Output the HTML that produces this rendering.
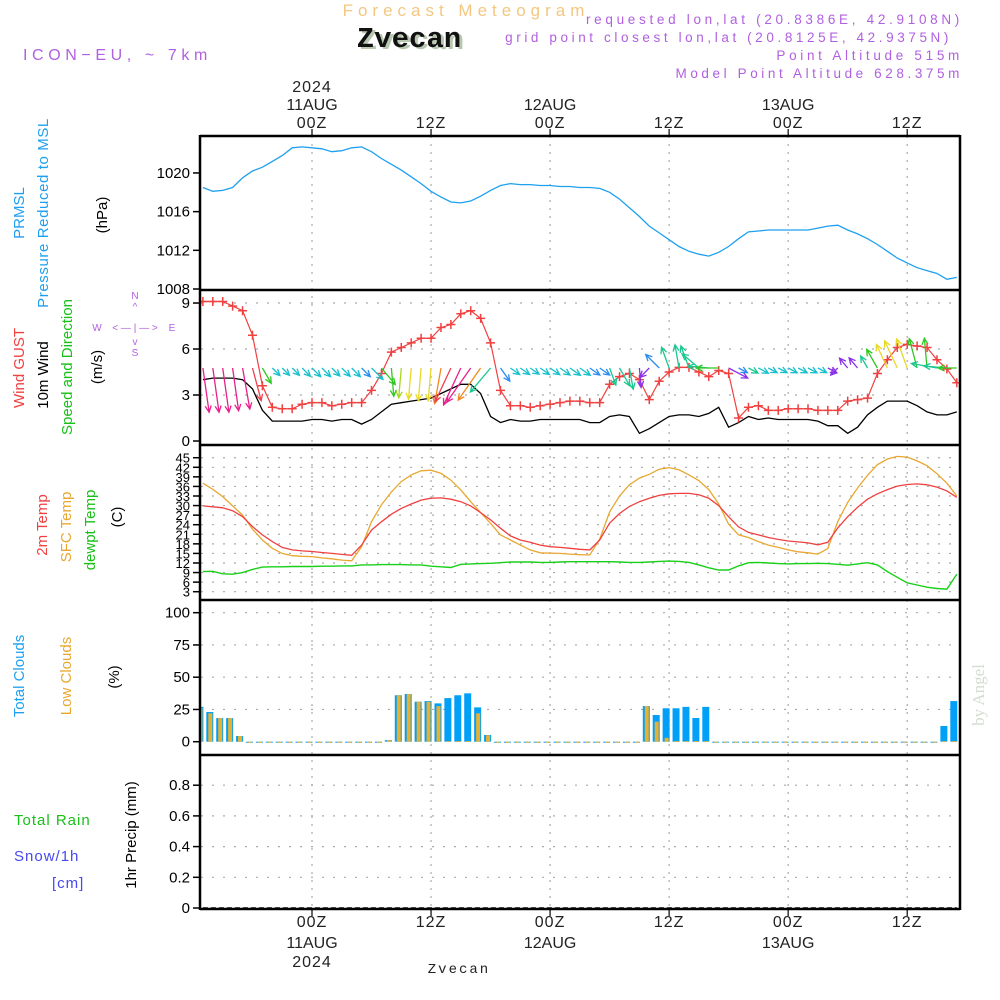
<!DOCTYPE html>
<html><head><meta charset="utf-8"><title>Forecast Meteogram Zvecan</title>
<style>
html,body{margin:0;padding:0;background:#fff;}
svg{display:block;font-family:"Liberation Sans",sans-serif;}
</style></head>
<body>
<svg id="chart" width="1000" height="1000" viewBox="0 0 1000 1000" xmlns="http://www.w3.org/2000/svg">
<defs><clipPath id="plotclip"><rect x="201" y="136" width="758" height="773"/></clipPath></defs>
<rect x="0" y="0" width="1000" height="1000" fill="#fff"/>
<text x="466" y="16" text-anchor="middle" font-size="17" fill="#f3c780" letter-spacing="5">Forecast Meteogram</text>
<text x="412" y="49" text-anchor="middle" font-size="29" font-weight="bold" font-family="Liberation Mono, monospace" fill="#b8c8b0">Zvecan</text>
<text x="409" y="47" text-anchor="middle" font-size="29" font-weight="bold" font-family="Liberation Mono, monospace" fill="#111">Zvecan</text>
<text x="23" y="60" font-size="16" fill="#b060e0" letter-spacing="4.6">ICON−EU, ~ 7km</text>
<text x="963" y="24" text-anchor="end" font-size="13.5" fill="#b060e0" letter-spacing="3.7">requested lon,lat (20.8386E, 42.9108N)</text>
<text x="952" y="42" text-anchor="end" font-size="13.5" fill="#b060e0" letter-spacing="3.6">grid point closest lon,lat (20.8125E, 42.9375N)</text>
<text x="963" y="60" text-anchor="end" font-size="13.5" fill="#b060e0" letter-spacing="3.7">Point Altitude 515m</text>
<text x="963" y="78" text-anchor="end" font-size="13.5" fill="#b060e0" letter-spacing="3.6">Model Point Altitude 628.375m</text>
<text transform="translate(984,695) rotate(-90)" text-anchor="middle" font-size="17" font-family="Liberation Serif, serif" fill="#d3ddd0">by Angel</text>

<!-- left panel titles -->
<text transform="translate(24,213) rotate(-90)" text-anchor="middle" font-size="15" fill="#1ea0f0">PRMSL</text>
<text transform="translate(48,213) rotate(-90)" text-anchor="middle" font-size="15" fill="#1ea0f0" letter-spacing="0.6">Pressure Reduced to MSL</text>
<text transform="translate(107,215) rotate(-90)" text-anchor="middle" font-size="15" fill="#000">(hPa)</text>
<text transform="translate(24,368) rotate(-90)" text-anchor="middle" font-size="15" fill="#f04040">Wind GUST</text>
<text transform="translate(48,375) rotate(-90)" text-anchor="middle" font-size="15" fill="#000">10m Wind</text>
<text transform="translate(72,367) rotate(-90)" text-anchor="middle" font-size="15" fill="#18c018">Speed and Direction</text>
<text transform="translate(102,367) rotate(-90)" text-anchor="middle" font-size="15" fill="#000">(m/s)</text>
<g fill="#b060e0" font-size="10" text-anchor="middle">
<text x="135" y="299">N</text><text x="135" y="356">S</text><text x="97" y="331">W</text><text x="172" y="331">E</text>
<text x="135" y="310">^</text><text x="135" y="345">v</text><text x="135" y="331">&lt; — | — &gt;</text>
</g>
<text transform="translate(47,525) rotate(-90)" text-anchor="middle" font-size="15" fill="#f04040">2m Temp</text>
<text transform="translate(71,527) rotate(-90)" text-anchor="middle" font-size="15" fill="#e8a830">SFC Temp</text>
<text transform="translate(95,530) rotate(-90)" text-anchor="middle" font-size="15" fill="#18c018">dewpt Temp</text>
<text transform="translate(122,517) rotate(-90)" text-anchor="middle" font-size="15" fill="#000">(C)</text>
<text transform="translate(24,676) rotate(-90)" text-anchor="middle" font-size="15" fill="#1ea0f0">Total Clouds</text>
<text transform="translate(71,676) rotate(-90)" text-anchor="middle" font-size="15" fill="#e8a830">Low Clouds</text>
<text transform="translate(119,677) rotate(-90)" text-anchor="middle" font-size="15" fill="#000">(%)</text>
<text x="14" y="825" font-size="15" fill="#18c018" letter-spacing="1">Total  Rain</text>
<text x="14" y="861" font-size="15" fill="#4848f0" letter-spacing="1">Snow/1h</text>
<text x="52" y="888" font-size="15" fill="#4848f0" letter-spacing="1">[cm]</text>
<text transform="translate(136,835) rotate(-90)" text-anchor="middle" font-size="15" fill="#000">1hr Precip (mm)</text>
<text x="459" y="973" text-anchor="middle" font-size="14" font-family="Liberation Mono, monospace" fill="#222" letter-spacing="2">Zvecan</text>
<g id="plot"></g>
</svg>
<script>
// ---- data (hourly, from -11h to +65h relative to 00Z 11AUG 2024) ----
const hourStart = -11;
const pressure = [1018.5,1018.1,1018.2,1018.5,1019.5,1020.2,1020.6,1021.2,1021.8,1022.6,1022.7,1022.6,1022.5,1022.2,1022.3,1022.6,1022.7,1022.2,1021.5,1020.9,1020.3,1019.6,1018.9,1018.1,1017.5,1017.0,1016.9,1017.1,1017.6,1018.2,1018.7,1018.9,1018.8,1018.8,1018.7,1018.7,1018.6,1018.6,1018.5,1018.5,1018.4,1018.0,1017.3,1016.4,1015.5,1014.5,1013.8,1013.1,1012.4,1011.9,1011.6,1011.4,1011.8,1012.4,1013.2,1013.9,1014.0,1014.1,1014.1,1014.1,1014.1,1014.1,1014.3,1014.5,1014.6,1014.1,1013.7,1013.2,1012.6,1011.9,1011.2,1010.7,1010.2,1009.9,1009.6,1009.0,1009.2];
const gust = [9.1,9.1,9.1,8.8,8.5,6.9,3.6,2.2,2.1,2.1,2.4,2.5,2.5,2.3,2.4,2.5,2.5,3.3,4.4,5.8,6.1,6.4,6.7,6.7,7.4,7.6,8.3,8.5,8.0,6.4,3.3,2.3,2.3,2.2,2.3,2.4,2.5,2.6,2.6,2.5,2.5,3.7,4.2,4.4,4.0,2.7,3.9,4.5,4.8,4.8,4.5,4.2,4.6,4.4,1.5,2.2,2.3,2.0,2.0,2.1,2.1,2.1,2.0,2.0,2.0,2.6,2.7,2.8,4.4,5.3,6.1,6.3,6.2,6.1,5.3,4.7,3.8];
const wind10m = [4.0,4.1,4.1,4.1,4.0,3.4,2.0,1.3,1.3,1.3,1.3,1.4,1.4,1.3,1.4,1.4,1.1,1.4,1.9,2.4,2.5,2.6,2.7,2.8,3.1,3.4,3.7,3.7,3.1,1.6,1.2,1.4,1.3,1.3,1.4,1.4,1.4,1.4,1.4,1.2,1.2,1.6,1.7,1.6,0.5,0.8,1.2,1.6,1.7,1.7,1.6,1.8,2.2,0.9,1.2,1.6,1.4,1.5,1.4,1.4,1.4,1.4,1.3,1.0,1.0,0.5,0.9,1.7,2.2,2.6,2.6,2.6,2.3,1.9,1.7,1.7,1.9];
const windDir = [172,172,172,172,170,165,150,135,135,135,135,135,135,135,135,135,135,135,140,175,185,185,185,185,190,205,205,215,215,220,145,125,125,125,125,125,125,125,125,125,125,160,150,170,175,225,315,340,350,340,310,275,270,118,118,118,118,118,118,118,118,118,118,118,225,320,320,330,330,335,335,340,345,355,280,275,270];
const temp2m = [29.9,29.6,29.3,28.4,26.5,23.4,20.8,18.7,16.9,16.1,15.8,15.6,15.3,15.0,14.7,14.4,17.6,22.3,24.9,27.3,29.1,30.5,31.7,32.3,32.4,32.0,31.2,29.9,27.8,25.5,22.9,20.5,19.2,18.5,17.6,17.1,16.9,16.6,16.3,16.1,19.2,24.5,27.5,29.7,31.2,32.3,33.2,33.7,33.8,33.8,33.4,32.3,30.0,26.5,23.3,21.6,20.8,20.0,19.4,18.9,18.6,18.3,17.7,18.5,23.0,26.5,29.5,32.0,33.7,35.0,36.1,36.6,36.8,36.5,35.8,34.6,32.6];
const tempSfc = [37.0,35.1,32.8,29.9,27.0,22.6,19.2,16.6,15.0,14.3,14.1,14.0,13.6,13.3,12.9,12.7,17.1,24.9,30.2,34.3,37.5,39.6,40.9,41.1,40.1,38.0,34.9,31.2,27.8,24.4,20.8,19.2,17.6,16.1,15.2,15.1,15.0,14.8,14.6,14.5,19.5,28.0,33.0,36.5,38.6,39.8,41.4,41.9,41.2,39.6,37.8,35.0,30.5,24.2,20.8,20.0,18.7,17.6,16.9,16.1,15.5,15.2,14.8,16.5,25.0,31.0,35.5,39.5,42.8,44.6,45.4,45.2,44.0,42.5,40.0,37.0,33.0];
const dewpoint = [9.3,9.4,8.6,8.5,9.0,10.0,10.7,10.8,10.8,10.9,10.9,10.9,11.0,11.0,11.1,11.1,11.4,11.4,11.5,11.5,11.5,11.4,11.4,11.0,10.8,10.6,11.6,11.7,11.8,11.9,12.1,12.3,12.3,12.3,12.2,12.2,12.3,12.4,12.4,12.4,12.4,12.4,12.3,12.2,12.2,12.3,12.5,12.6,12.5,12.2,11.4,10.5,9.8,9.8,11.1,12.1,12.2,12.0,11.8,11.7,11.8,11.8,11.9,11.8,11.6,11.3,11.7,12.1,11.4,9.3,7.5,5.8,5.1,4.4,4.0,3.8,8.5];
const totalClouds = [27,23,18.3,18.3,4.4,0,0,0,0,0,0,0,0,0,0,0,0,0,0,1.2,36,37,31,31.5,29.7,33.8,36,37.5,26.6,5.2,0,0,0,0,0,0,0,0,0,0,0,0,0,0,0,27.6,20.7,25.9,25.9,27,18.4,27,0,0,0,0,0,0,0,0,0,0,0,0,0,0,0,0,0,0,0,0,0,0,0,12.2,31.5];
const lowClouds = [26,22,18.3,18.3,4.4,0,0,0,0,0,0,0,0,0,0,0,0,0,0,1.2,36,37,31,31,27.6,0.5,0.5,0.5,22,5,0,0,0,0,0,0,0,0,0,0,0,0,0,0,0,27.6,15.5,3,0.5,0.5,0.5,0.5,0,0,0,0,0,0,0,0,0,0,0,0,0,0,0,0,0,0,0,0,0,0,0,0.5,0.5];
const precip = totalClouds.map(function(){return 0;});
const pressureTicks = [1008,1012,1016,1020];
const windTicks = [0,3,6,9];
const tempTicks = [3,6,9,12,15,18,21,24,27,30,33,36,39,42,45];
const cloudTicks = [0,25,50,75,100];
const precipTicks = [0,0.2,0.4,0.6,0.8];
const timeTickHours = [0,12,24,36,48,60];
const timeTickLabels = ["00Z","12Z","00Z","12Z","00Z","12Z"];
const dateLabels = ["11AUG","","12AUG","","13AUG",""];
const yearLabels = ["2024","","","","",""];

// ---- axes ----
const X0 = 201, X1 = 959;
function xH(h){ return 312 + h*9.92; }
function yP(p){ return 289 - (p-1008)*9.67; }
function yW(v){ return 441 - v*15.33; }
function yT(t){ return 591.7 - (t-3)*3.19; }
function yC(c){ return 741.7 - c*1.29; }
function yR(r){ return 908 - r*153.5; }

const NS = "http://www.w3.org/2000/svg";
const plot = document.getElementById('plot');
function mk(tag, attrs, parent){
  const e = document.createElementNS(NS, tag);
  for (const k in attrs) e.setAttribute(k, attrs[k]);
  (parent||plot).appendChild(e);
  return e;
}
const clipG = mk('g', {'clip-path':'url(#plotclip)'});



function hGrid(vals, fy, name){
  vals.forEach(function(v){
    const l = mk('line', {x1:X0, x2:X1, y1:fy(v), y2:fy(v), stroke:'#aaa', 'stroke-width':1.2, 'stroke-dasharray':'2,9'}, clipG);
    
    
  });
}
hGrid(windTicks.slice(1), yW, 'wind-gridline');
hGrid(tempTicks, yT, 'temp-gridline');
hGrid(cloudTicks.slice(1), yC, 'cloud-gridline');
hGrid(precipTicks.slice(1), yR, 'precip-gridline');
timeTickHours.forEach(function(h){
  const l = mk('line', {x1:xH(h), x2:xH(h), y1:136, y2:909, stroke:'#aaa', 'stroke-width':1.2, 'stroke-dasharray':'2,6'}, clipG);
  
  
});

function hourOf(i){ return hourStart + i; }
function pathFrom(arr, fy){
  return arr.map(function(v,i){ return (i?'L':'M') + xH(hourOf(i)).toFixed(1) + ',' + fy(v).toFixed(1); }).join(' ');
}

const pLine = mk('path', {d:pathFrom(pressure, yP), fill:'none', stroke:'#1ea0f0', 'stroke-width':1.3}, clipG);



const wLine = mk('path', {d:pathFrom(wind10m, yW), fill:'none', stroke:'#000', 'stroke-width':1.3}, clipG);



const gLine = mk('path', {d:pathFrom(gust, yW), fill:'none', stroke:'#f04040', 'stroke-width':1.2}, clipG);


gust.forEach(function(v,i){
  const x = xH(hourOf(i)), y = yW(v);
  const m = mk('path', {d:'M'+(x-4.5)+','+y+' h9 M'+x+','+(y-4.5)+' v9', stroke:'#f04040', 'stroke-width':1.5}, clipG);
  
  
});

function arrowColor(s){
  if (s < 1.05) return '#8a30e8';
  if (s < 1.25) return '#2a8cf0';
  if (s < 1.55) return '#18c0cc';
  if (s < 1.9) return '#18c890';
  if (s < 2.45) return '#30c820';
  if (s < 2.6) return '#a8d820';
  if (s < 2.95) return '#e8d828';
  if (s < 3.3) return '#f08a20';
  if (s < 3.6) return '#f04050';
  return '#e8208a';
}
windDir.forEach(function(d,i){
  const x = xH(hourOf(i)), y = 368;
  const len = Math.max(10, gust[i]*4.9);
  const a = d*Math.PI/180;
  const ex = x + len*Math.sin(a), ey = y - len*Math.cos(a);
  const b1 = a + Math.PI - 0.45, b2 = a + Math.PI + 0.45;
  const hl = 7;
  const col = arrowColor(wind10m[i]);
  const p = mk('path', {d:'M'+x.toFixed(1)+','+y+' L'+ex.toFixed(1)+','+ey.toFixed(1)+
    ' M'+(ex+hl*Math.sin(b1)).toFixed(1)+','+(ey-hl*Math.cos(b1)).toFixed(1)+' L'+ex.toFixed(1)+','+ey.toFixed(1)+
    ' L'+(ex+hl*Math.sin(b2)).toFixed(1)+','+(ey-hl*Math.cos(b2)).toFixed(1),
    fill:'none', stroke:col, 'stroke-width':1.3}, clipG);
  
  
});

const tS = mk('path', {d:pathFrom(tempSfc, yT), fill:'none', stroke:'#e8a830', 'stroke-width':1.3}, clipG);


const t2 = mk('path', {d:pathFrom(temp2m, yT), fill:'none', stroke:'#f04040', 'stroke-width':1.3}, clipG);


const td = mk('path', {d:pathFrom(dewpoint, yT), fill:'none', stroke:'#18d018', 'stroke-width':1.4}, clipG);



totalClouds.forEach(function(v,i){
  const cx = xH(hourOf(i)) - 3;
  const tb = mk('rect', {x:cx-3.5, y:yC(v), width:7, height:Math.max(1, yC(0)-yC(v)), fill:'#00a0f8'}, clipG);
  
  
  const lv = lowClouds[i];
  const lb = mk('rect', {x:cx-1.5, y:yC(lv), width:4, height:Math.max(1, yC(0)-yC(lv)), fill:'#e8b030'}, clipG);
  
  
});

const pr = mk('path', {d:pathFrom(precip, yR), fill:'none', stroke:'#000', 'stroke-width':1.5, 'stroke-dasharray':'5,3'}, clipG);



[136,290,445,600,755,909].forEach(function(y){
  const l = mk('line', {x1:200, x2:960, y1:y, y2:y, stroke:'#000', 'stroke-width':2.5});
  
  
});
[200,960].forEach(function(x){
  const l = mk('line', {x1:x, x2:x, y1:135, y2:910, stroke:'#000', 'stroke-width':2.5});
  
  
});

function yTicks(vals, fy, name, fs){
  vals.forEach(function(v){
    const y = fy(v);
    const t = mk('line', {x1:193, x2:200, y1:y, y2:y, stroke:'#000', 'stroke-width':1.5});
    
    
    const lb = mk('text', {x:190, y:y+5, 'text-anchor':'end', 'font-size':fs, fill:'#000'});
    lb.textContent = String(v);
    
    
  });
}
yTicks(pressureTicks, yP, 'pressure', 15);
yTicks(windTicks, yW, 'wind', 15);
yTicks(tempTicks, yT, 'temp', 13);
yTicks(cloudTicks, yC, 'cloud', 15);
yTicks(precipTicks, yR, 'precip', 15);

timeTickHours.forEach(function(h,i){
  const x = xH(h);
  const tt = mk('line', {x1:x, x2:x, y1:129, y2:136, stroke:'#000', 'stroke-width':1.2});
  
  
  const bt = mk('line', {x1:x, x2:x, y1:909, y2:916, stroke:'#000', 'stroke-width':1.2});
  
  
  const a = mk('text', {x:x, y:128, 'text-anchor':'middle', 'font-size':16, fill:'#222', 'letter-spacing':1});
  a.textContent = timeTickLabels[i];
  
  
  const b = mk('text', {x:x, y:927, 'text-anchor':'middle', 'font-size':16, fill:'#222', 'letter-spacing':1});
  b.textContent = timeTickLabels[i];
  
  
  if (dateLabels[i]){
    const c = mk('text', {x:x, y:110, 'text-anchor':'middle', 'font-size':16, fill:'#222'});
    c.textContent = dateLabels[i];
    
    
    const d = mk('text', {x:x, y:948, 'text-anchor':'middle', 'font-size':16, fill:'#222'});
    d.textContent = dateLabels[i];
    
    
  }
  if (yearLabels[i]){
    const e = mk('text', {x:x, y:92, 'text-anchor':'middle', 'font-size':16, fill:'#222', 'letter-spacing':1});
    e.textContent = yearLabels[i];
    
    
    const f = mk('text', {x:x, y:967, 'text-anchor':'middle', 'font-size':16, fill:'#222', 'letter-spacing':1});
    f.textContent = yearLabels[i];
    
    
  }
});
</script>
</body></html>
